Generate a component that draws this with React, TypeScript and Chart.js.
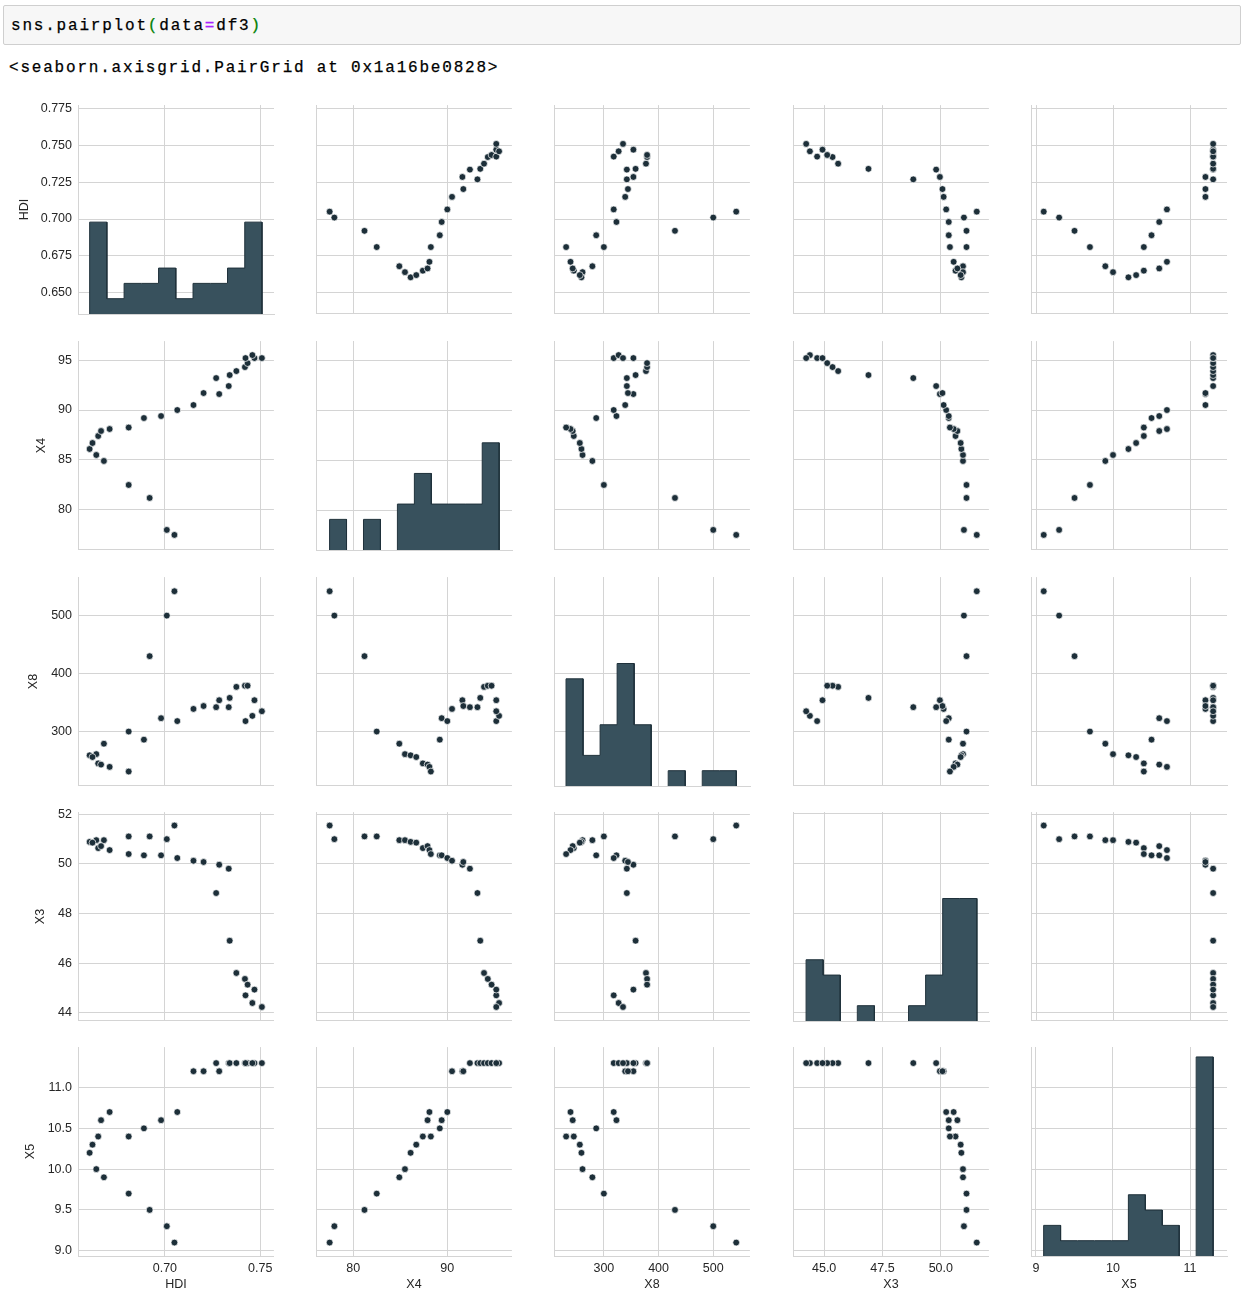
import React, { useEffect, useRef } from "react";
import { Chart, registerables } from "chart.js";

Chart.register(...registerables);

// ---------------- data (one row per observation, 28 rows) ----------------
const VARIABLES = ["HDI", "X4", "X8", "X3", "X5"];

const HDI = [0.705, 0.701, 0.692, 0.681, 0.668, 0.664, 0.6605, 0.662, 0.665, 0.6665, 0.671, 0.681, 0.689, 0.698, 0.7065, 0.715, 0.7285, 0.7203, 0.7335, 0.7269, 0.734, 0.7375, 0.742, 0.7434, 0.7423, 0.747, 0.7459, 0.7509];
const X4 = [77.5, 78.0, 81.2, 82.5, 84.9, 85.5, 86.1, 86.7, 87.4, 87.9, 88.1, 88.25, 89.2, 89.4, 90.0, 90.5, 91.6, 91.7, 92.4, 93.2, 93.5, 93.9, 94.3, 94.7, 95.2, 95.2, 95.5, 95.2];
const X8 = [542, 500, 430, 300, 279, 261, 259, 256, 245, 243, 239, 231, 286, 323, 318, 339, 354, 344, 342, 342, 358, 377, 379, 379, 318, 354, 327, 335];
const X3 = [51.54, 50.99, 51.1, 51.1, 50.95, 50.95, 50.88, 50.85, 50.63, 50.71, 50.55, 50.39, 50.34, 50.34, 50.23, 50.12, 49.96, 50.07, 49.8, 48.82, 46.9, 45.6, 45.36, 45.13, 44.7, 44.93, 44.39, 44.23];
const X5 = [9.1, 9.3, 9.5, 9.7, 9.9, 10.0, 10.2, 10.3, 10.4, 10.6, 10.7, 10.4, 10.5, 10.6, 10.7, 11.2, 11.2, 11.2, 11.3, 11.3, 11.3, 11.3, 11.3, 11.3, 11.3, 11.3, 11.3, 11.3];

const SERIES = [HDI, X4, X8, X3, X5];

// tick values and labels
const Y_TICKS = [
  [0.65, 0.675, 0.7, 0.725, 0.75, 0.775],
  [80, 85, 90, 95],
  [300, 400, 500],
  [44, 46, 48, 50, 52],
  [9, 9.5, 10, 10.5, 11],
];
const Y_TICK_LABELS = [
  ["0.650", "0.675", "0.700", "0.725", "0.750", "0.775"],
  ["80", "85", "90", "95"],
  ["300", "400", "500"],
  ["44", "46", "48", "50", "52"],
  ["9.0", "9.5", "10.0", "10.5", "11.0"],
];
const X_TICKS = [
  [0.7, 0.75],
  [80, 90],
  [300, 400, 500],
  [45, 47.5, 50],
  [9, 10, 11],
];
const X_TICK_LABELS = [
  ["0.70", "0.75"],
  ["80", "90"],
  ["300", "400", "500"],
  ["45.0", "47.5", "50.0"],
  ["9", "10", "11"],
];

// axis limits
const X_LIMITS = [
  [0.6544, 0.7572],
  [76.06, 96.86],
  [209, 567],
  [43.67, 52.06],
  [8.936, 11.48],
];
const Y_LIMITS = [
  [0.6357, 0.7772],
  [76.0, 96.9],
  [206.2, 566.4],
  [43.67, 52.08],
  [8.935, 11.496],
];

const N_BINS = 10;

// ---------------- layout / style ----------------
const PANEL_LEFT = [78, 316, 554, 793, 1031];
const PANEL_TOP = [105, 341, 577, 812, 1047];
const PANEL_W = 196;
const PANEL_H = 209;
const PAGE_W = 1242;
const PAGE_H = 1291;
const M = 4;
const Y_TITLE_CENTER = [25, 42, 34, 41, 31];

const FONT = "'Liberation Sans', Arial, Helvetica, sans-serif";
const MONO = "'Liberation Mono', 'DejaVu Sans Mono', monospace";
const GRID = "#d4d4d4";
const TEXT = "#262626";
const POINT = "#1d2f39";
const HIST_FILL = "#38515d";
const HIST_EDGE = "#1f313b";

function histogram(values: number[], nb: number) {
  const min = Math.min(...values);
  const max = Math.max(...values);
  const w = (max - min) / nb;
  const counts = new Array(nb).fill(0);
  values.forEach((v) => {
    let i = Math.floor((v - min) / w + 1e-9);
    if (i >= nb) i = nb - 1;
    counts[i]++;
  });
  const edges = Array.from({ length: nb + 1 }, (_, i) => min + i * w);
  return { counts, edges };
}

function histRuns(values: number[]) {
  const { counts, edges } = histogram(values, N_BINS);
  const runs: { x: number; y: number }[][] = [];
  let cur: { x: number; y: number }[] | null = null;
  for (let i = 0; i < counts.length; i++) {
    if (counts[i] > 0) {
      if (!cur) {
        cur = [{ x: edges[i], y: 0 }];
      }
      cur.push({ x: edges[i], y: counts[i] });
      cur.push({ x: edges[i + 1], y: counts[i] });
    } else if (cur) {
      cur.push({ x: edges[i], y: 0 });
      runs.push(cur);
      cur = null;
    }
  }
  if (cur) {
    cur.push({ x: edges[counts.length], y: 0 });
    runs.push(cur);
  }
  return runs;
}

const MAX_COUNT = Math.max(...SERIES.map((s) => Math.max(...histogram(s, N_BINS).counts)));

function panelBox(r: number, c: number) {
  const L = c === 0 ? PANEL_LEFT[0] : M;
  const B = r === 4 ? PAGE_H - (PANEL_TOP[4] + PANEL_H) : M;
  const T = M;
  const R = c === 4 ? PAGE_W - 2 - (PANEL_LEFT[4] + PANEL_W) : M;
  return {
    L, B, T, R,
    left: PANEL_LEFT[c] - L,
    top: PANEL_TOP[r] - T,
    width: L + PANEL_W + R,
    height: T + PANEL_H + B,
  };
}

function makeConfig(r: number, c: number): any {
  const box = panelBox(r, c);
  const datasets: any[] = [];
  const isDiag = r === c;
  if (isDiag) {
    histRuns(SERIES[c]).forEach((run) => {
      datasets.push({
        type: "line",
        data: run,
        xAxisID: "x",
        yAxisID: "yc",
        fill: "origin",
        backgroundColor: HIST_FILL,
        borderColor: HIST_EDGE,
        borderWidth: 1,
        pointRadius: 0,
        tension: 0,
      });
    });
  } else {
    datasets.push({
      type: "scatter",
      data: SERIES[c].map((v, i) => ({ x: v, y: SERIES[r][i] })),
      xAxisID: "x",
      yAxisID: "y",
      backgroundColor: POINT,
      borderColor: "#ffffff",
      borderWidth: 0.7,
      pointRadius: 3.4,
      pointHoverRadius: 3.4,
    });
  }

  const scales: any = {
    x: {
      type: "linear",
      position: "bottom",
      min: X_LIMITS[c][0],
      max: X_LIMITS[c][1],
      afterBuildTicks: (s: any) => {
        s.ticks = X_TICKS[c].map((v) => ({ value: v }));
      },
      afterFit: (s: any) => {
        s.height = box.B;
        s.paddingLeft = 0;
        s.paddingRight = 0;
      },
      grid: { color: GRID, lineWidth: 1, drawTicks: false },
      border: { display: true, color: GRID, width: 1 },
      ticks: {
        display: r === 4,
        padding: 5,
        maxRotation: 0,
        autoSkip: false,
        color: TEXT,
        font: { family: FONT, size: 12.5 },
        callback: (_v: any, i: number) => X_TICK_LABELS[c][i],
      },
      title: {
        display: r === 4,
        text: VARIABLES[c],
        color: TEXT,
        font: { family: FONT, size: 12.5, lineHeight: 1 },
        padding: { top: 0, bottom: 0 },
      },
    },
    y: {
      type: "linear",
      position: "left",
      min: Y_LIMITS[r][0],
      max: Y_LIMITS[r][1],
      afterBuildTicks: (s: any) => {
        s.ticks = Y_TICKS[r].map((v) => ({ value: v }));
      },
      afterFit: (s: any) => {
        s.width = box.L;
        s.paddingTop = 0;
        s.paddingBottom = 0;
      },
      grid: { color: GRID, lineWidth: 1, drawTicks: false },
      border: { display: true, color: GRID, width: 1 },
      ticks: {
        display: c === 0,
        padding: 6,
        autoSkip: false,
        color: TEXT,
        font: { family: FONT, size: 12.5 },
        callback: (_v: any, i: number) => Y_TICK_LABELS[r][i],
      },
      title: {
        display: c === 0,
        text: VARIABLES[r],
        color: TEXT,
        font: { family: FONT, size: 12.5, lineHeight: 1.2 },
        padding: { top: Y_TITLE_CENTER[r] - 7.5, bottom: 0 },
      },
    },
  };
  if (isDiag) {
    scales.yc = {
      type: "linear",
      display: false,
      min: 0,
      max: MAX_COUNT * 1.05,
    };
  }

  return {
    type: "scatter",
    data: { datasets },
    options: {
      responsive: false,
      maintainAspectRatio: false,
      animation: false,
      devicePixelRatio: 1,
      layout: { padding: { top: box.T, right: box.R, left: 0, bottom: 0 } },
      plugins: {
        legend: { display: false },
        tooltip: { enabled: false },
      },
      events: [],
      scales,
    },
  };
}

export default function App() {
  const refs = useRef<(HTMLCanvasElement | null)[]>([]);

  useEffect(() => {
    const charts: Chart[] = [];
    for (let r = 0; r < 5; r++) {
      for (let c = 0; c < 5; c++) {
        const cv = refs.current[r * 5 + c];
        if (cv) charts.push(new Chart(cv, makeConfig(r, c)));
      }
    }
    return () => charts.forEach((ch) => ch.destroy());
  }, []);

  const canvases: React.ReactNode[] = [];
  for (let r = 0; r < 5; r++) {
    for (let c = 0; c < 5; c++) {
      const b = panelBox(r, c);
      canvases.push(
        <canvas
          key={`${r}-${c}`}
          ref={(el) => {
            refs.current[r * 5 + c] = el;
          }}
          width={b.width}
          height={b.height}
          style={{
            position: "absolute",
            left: b.left,
            top: b.top,
            width: b.width,
            height: b.height,
          }}
        />
      );
    }
  }

  const mono: React.CSSProperties = {
    fontFamily: MONO,
    fontSize: 16,
    letterSpacing: "1.8px",
    whiteSpace: "pre",
    color: "#000",
    WebkitTextStroke: "0.25px #000",
  };

  return (
    <div
      style={{
        position: "absolute",
        left: 0,
        top: 0,
        width: PAGE_W,
        height: PAGE_H,
        background: "#ffffff",
        overflow: "hidden",
      }}
    >
      <div
        style={{
          position: "absolute",
          left: 3,
          top: 5,
          width: 1238,
          height: 40,
          boxSizing: "border-box",
          border: "1px solid #cfcfcf",
          background: "#f7f7f7",
          borderRadius: 2,
        }}
      >
        <div style={{ ...mono, position: "absolute", left: 7, top: 10, lineHeight: "20px" }}>
          <span>sns.pairplot</span>
          <span style={{ color: "#008000", WebkitTextStroke: "0.25px #008000" }}>(</span>
          <span>data</span>
          <span style={{ color: "#aa22ff", WebkitTextStroke: "0.25px #aa22ff" }}>=</span>
          <span>df3</span>
          <span style={{ color: "#008000", WebkitTextStroke: "0.25px #008000" }}>)</span>
        </div>
      </div>
      <div style={{ ...mono, position: "absolute", left: 9, top: 58, lineHeight: "20px" }}>
        {"<seaborn.axisgrid.PairGrid at 0x1a16be0828>"}
      </div>
      {canvases}
    </div>
  );
}
